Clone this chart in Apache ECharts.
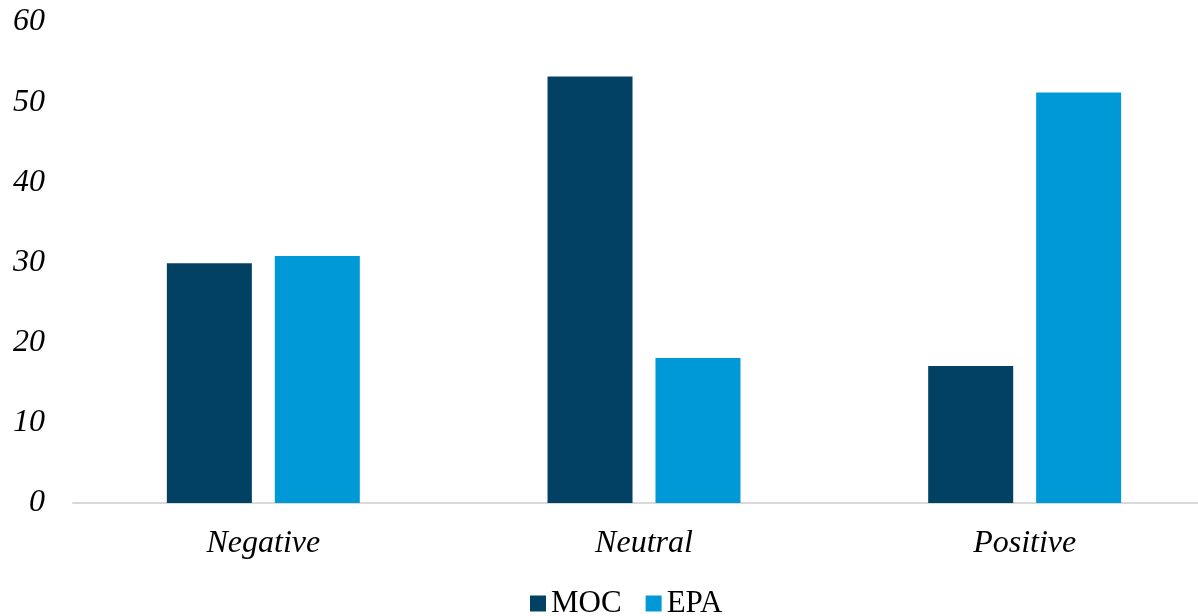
<!DOCTYPE html>
<html>
<head>
<meta charset="utf-8">
<script src="https://cdn.jsdelivr.net/npm/echarts@6/dist/echarts.min.js"></script>
<style>
  html, body { margin: 0; padding: 0; background: #fff; }
  #main { width: 1198px; height: 616px; }
</style>
</head>
<body>
<div id="main"></div>
<script>
var categories = ["Negative", "Neutral", "Positive"];
var mocValues = [29.9, 53.2, 17.1];
var epaValues = [30.8, 18.1, 51.2];
var seriesNames = ["MOC", "EPA"];

var chart = echarts.init(document.getElementById("main"));
var serif = "'Liberation Serif', 'Times New Roman', serif";

var option = {
  animation: false,
  backgroundColor: "#ffffff",
  legend: {
    data: seriesNames,
    left: 525,
    top: 583,
    itemWidth: 16,
    itemHeight: 16,
    itemGap: 24,
    icon: "rect",
    textStyle: { fontFamily: serif, fontSize: 31, color: "#000" },
  },
  grid: {
    left: 73,
    top: 22,
    width: 1142,
    bottom: 113,
    containLabel: false,
    outerBoundsMode: "none",
  },
  xAxis: {
    type: "category",
    data: categories,
    axisTick: { show: false },
    axisLine: { lineStyle: { color: "#d9d9d9", width: 2 } },
    axisLabel: {
      margin: 25,
      fontFamily: serif,
      fontStyle: "italic",
      fontSize: 32,
      color: "#000",
    },
  },
  yAxis: {
    type: "value",
    min: 0,
    max: 60,
    interval: 10,
    axisLine: { show: false },
    axisTick: { show: false },
    splitLine: { show: false },
    axisLabel: {
      margin: 28,
      fontFamily: serif,
      fontStyle: "italic",
      fontSize: 32,
      color: "#000",
    },
  },
  series: [
    {
      name: seriesNames[0],
      type: "bar",
      data: mocValues,
      barWidth: 85,
      barGap: "27%",
      itemStyle: { color: "#024064" },
    },
    {
      name: seriesNames[1],
      type: "bar",
      data: epaValues,
      barWidth: 85,
      itemStyle: { color: "#0099d8" },
    },
  ],
};

chart.setOption(option);
</script>
</body>
</html>
